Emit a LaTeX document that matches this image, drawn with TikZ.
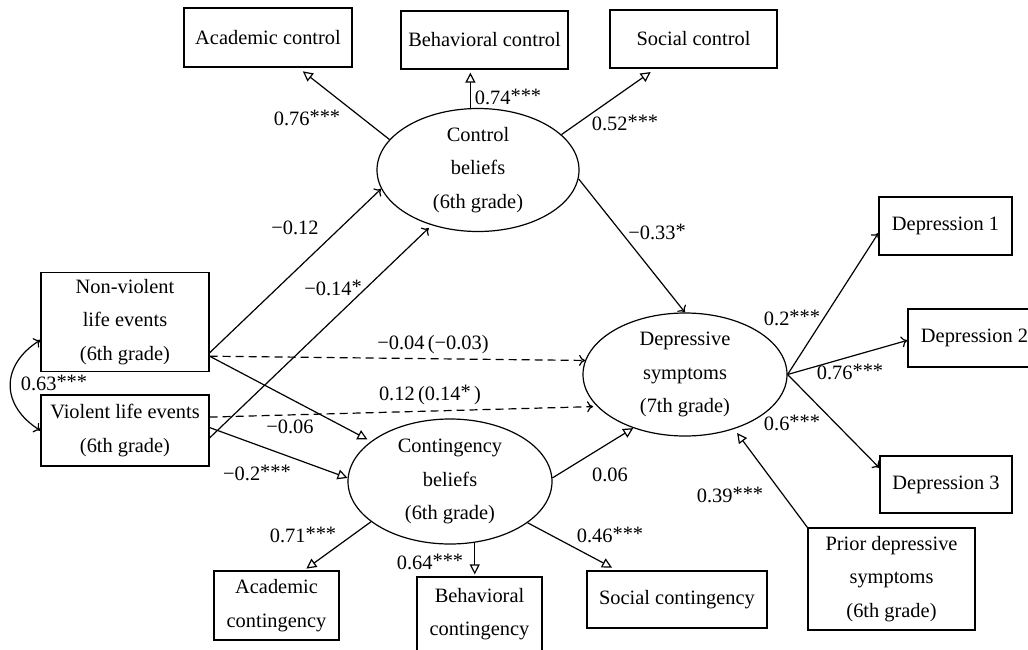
\documentclass[tikz,border=0pt]{standalone}
\usepackage{fontspec}
\setmainfont{Liberation Serif}
\usetikzlibrary{arrows.meta, positioning, shapes.geometric}

\newcommand{\signif}[1]{\raisebox{0.6pt}{#1}}

\tikzset{
  box/.style = {draw = black, rectangle, align = center},
  latent/.style = {draw = black, ellipse, align = center, inner sep = 0pt},
  coef/.style = {inner sep = 1pt},
  tri/.style = {-{Triangle[open, length = 5pt, width = 5pt]}},
  vee/.style = {-{To[length = 3pt, width = 5.5pt]}},
  dashline/.style = {dash pattern = on 4pt off 2.5pt},
}

\begin{document}
\begin{tikzpicture}[x = 0.5pt, y = -0.5pt, line width = 0.6pt, font = \fontsize{10.2}{16.75}\selectfont]
        \useasboundingbox (0, 0) rectangle (1028, 649) ;

        % control beliefs
        \node [latent, minimum width = 101pt, minimum height = 61.5pt] (ctrl) at (478, 170) {Control\\beliefs\\(6th grade)} ;
        \node [box, minimum width = 84pt, minimum height = 29.5pt] (acadctrl) at (268, 37.5) {Academic control} ;
        \node [box, minimum width = 83.5pt, minimum height = 29pt] (behavctrl) at (484.5, 40) {Behavioral control} ;
        \node [box, minimum width = 83.5pt, minimum height = 29pt] (socctrl) at (693.5, 39) {Social control} ;

        % life events
        \node [box, minimum width = 84pt, minimum height = 49pt] (nonviol) at (125, 322) {Non-violent\\life events\\(6th grade)} ;
        \node [box, minimum width = 84pt, minimum height = 35.5pt] (viol) at (125, 430.5) {Violent life events\\(6th grade)} ;

        % contingency beliefs
        \node [latent, minimum width = 102pt, minimum height = 62.5pt] (contbel) at (450, 481.5) {Contingency\\beliefs\\(6th grade)} ;
        \node [box, minimum width = 62.5pt, minimum height = 34.5pt] (acadcont) at (276.5, 605.5) {Academic\\contingency} ;
        \node [box, minimum width = 62.5pt, minimum height = 37pt] (behavcont) at (479.5, 614) {Behavioral\\contingency} ;
        \node [box, minimum width = 90pt, minimum height = 28.5pt] (soccont) at (677, 599.5) {Social contingency} ;

        % depressive symptoms
        \node [latent, minimum width = 102pt, minimum height = 61.5pt] (depsym) at (685, 374.5) {Depressive\\symptoms\\(7th grade)} ;
        \node [box, minimum width = 66.5pt, minimum height = 29pt] (dep1) at (945.5, 226) {Depression 1} ;
        \node [box, minimum width = 66.5pt, minimum height = 29pt] (dep2) at (974.5, 338) {Depression 2} ;
        \node [box, minimum width = 66pt, minimum height = 28.5pt] (dep3) at (946, 484.5) {Depression 3} ;
        \node [box, minimum width = 83.5pt, minimum height = 51pt] (prior) at (891.5, 579) {Prior depressive\\symptoms\\(6th grade)} ;

        % paths
        \draw [tri, shorten > = 3pt] (ctrl.161) -- (acadctrl.-45) ;
        \draw [tri, shorten > = 1.5pt] (ctrl.97) -- (ctrl.97 |- behavctrl.south) ;
        \draw [tri, shorten > = 3pt] (ctrl.23) -- (socctrl.218) ;
        \draw [vee] (ctrl.-5) -- (depsym.north) ;

        \draw [vee] (nonviol.-20) -- (ctrl.191) ;
        \draw [vee, shorten > = 2pt] (viol.-5) -- (ctrl.230) ;
        \draw [vee, dashline] (nonviol.-22) -- (depsym.172) ;
        \draw [vee, dashline, shorten > = 2pt] (viol.9) -- (depsym.200) ;
        \draw [tri, shorten > = 2pt] (nonviol.-22) -- (contbel.153) ;
        \draw [tri] (viol.2) -- (contbel.178) ;
        \draw [{To[length = 3pt, width = 5.5pt]}-{To[length = 3pt, width = 5.5pt]}] (nonviol.192) .. controls +(-40, 25) and +(-40, -25) .. (viol.west) ;

        \draw [tri] (contbel.2) -- (depsym.226) ;
        \draw [tri, shorten > = 1.5pt] (contbel.207) -- (acadcont.52) ;
        \draw [tri, shorten > = 1pt] (contbel.-68) -- (contbel.-68 |- behavcont.north) ;
        \draw [tri, shorten > = 3pt] (contbel.-28) -- (soccont.154) ;

        \draw [vee] (depsym.east) -- (dep1.186) ;
        \draw [vee] (depsym.east) -- (dep2.182) ;
        \draw [vee] (depsym.east) -- (dep3.166) ;
        \draw [tri, shorten > = 2.5pt] (prior.north west) -- (depsym.-48) ;

        % coefficients
        \node [coef] (lacadctrl) at (307, 118) {0.76\signif{***}} ;
        \node [coef] (lbehavctrl) at (508, 97) {0.74\signif{***}} ;
        \node [coef] (lsocctrl) at (625, 123) {0.52\signif{***}} ;
        \node [coef] (lnvctrl) at (295, 228) {−0.12} ;
        \node [coef] (lvctrl) at (333, 288) {−0.14\signif{*}} ;
        \node [coef] (lctrldep) at (657, 232) {−0.33\signif{*}} ;
        \node [coef] (lnvdep) at (433, 345) {−0.04\,(−0.03)} ;
        \node [coef] (lvdep) at (430, 395) {0.12\,(0.14\signif{*}\,)} ;
        \node [coef] (lnvcont) at (290, 427) {−0.06} ;
        \node [coef] (lvcont) at (257, 473) {−0.2\signif{***}} ;
        \node [coef] (lcorr) at (54, 383) {0.63\signif{***}} ;
        \node [coef] (lcontdep) at (610, 475) {0.06} ;
        \node [coef] (lacadcont) at (303, 535) {0.71\signif{***}} ;
        \node [coef] (lbehavcont) at (430, 562) {0.64\signif{***}} ;
        \node [coef] (lsoccont) at (610, 535) {0.46\signif{***}} ;
        \node [coef] (ldep1) at (792, 318) {0.2\signif{***}} ;
        \node [coef] (ldep2) at (850, 372) {0.76\signif{***}} ;
        \node [coef] (ldep3) at (792, 423) {0.6\signif{***}} ;
        \node [coef] (lprior) at (730, 495) {0.39\signif{***}} ;
    \end{tikzpicture}
\end{document}
